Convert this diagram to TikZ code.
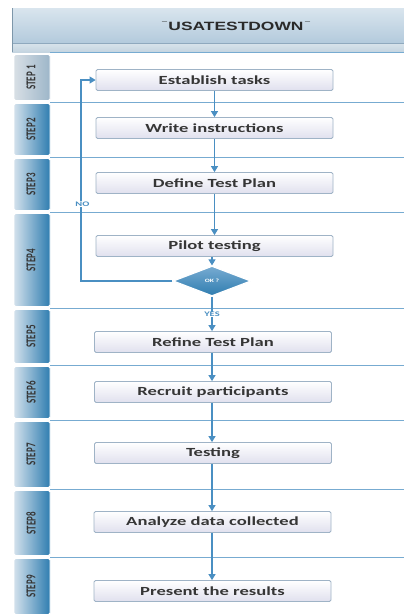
\documentclass[tikz,border=0pt]{standalone}
\usepackage{fontspec}
\setmainfont{Carlito}
\newfontfamily\boxfont[FakeStretch=1.5]{Carlito}
\newfontfamily\titlefont[FakeStretch=1.45]{Liberation Sans}
\newfontfamily\plainsans{Liberation Sans}
\usetikzlibrary{arrows.meta,shapes.geometric}
\definecolor{flow}{HTML}{4A8FC2}
\definecolor{tabblue}{HTML}{2F7DB0}
\definecolor{tablight}{HTML}{D3E1EC}
\definecolor{tabgrey}{HTML}{D8DFE5}
\definecolor{tabgreyblue}{HTML}{9DB6C9}
\definecolor{boxedge}{HTML}{9FB3C6}
\definecolor{boxfill}{HTML}{E0E0EE}
\definecolor{inktext}{HTML}{363636}
\definecolor{headtop}{HTML}{D9E5EE}
\definecolor{headbot}{HTML}{B3CADC}
\definecolor{striptop}{HTML}{D6E2EA}
\definecolor{stripbot}{HTML}{C4D4E0}
\definecolor{headrule}{HTML}{8FA9BE}
\definecolor{headedge}{HTML}{7E97AA}
\definecolor{titleink}{HTML}{2A2A2A}
\newcommand{\headmark}{\raisebox{1.8pt}{\plainsans\fontsize{9}{9}\selectfont ¯}}
\begin{document}
\begin{tikzpicture}[x=1pt,y=-1pt,
  stepbox/.style={draw=boxedge,line width=0.8pt,rounded corners=1.5pt,
    top color=white,bottom color=boxfill,minimum width=237pt,minimum height=21pt,
    inner sep=0pt,font=\boxfont\bfseries\fontsize{12.4}{12.4}\selectfont,text=inktext},
  decision/.style={diamond,aspect=2.6,minimum width=78pt,minimum height=30pt,inner sep=0pt,
    draw=white,line width=1.2pt,top color=flow!75,bottom color=tabblue,
    font=\boxfont\bfseries\fontsize{5}{5}\selectfont,text=white},
  flowline/.style={draw=flow,line width=1.1pt},
  flowarrow/.style={flowline,-{Triangle[length=6pt,width=7pt]}},
  lanetab/.style={rounded corners=1.5pt,left color=tablight,right color=tabblue,draw=white,line width=0.8pt},
  lanetabpale/.style={rounded corners=1.5pt,left color=tabgrey,right color=tabgreyblue,draw=white,line width=0.8pt},
  lanesep/.style={draw=flow!75,line width=1pt},
  steplabel/.style={rotate=90,font=\bfseries\fontsize{9}{9}\selectfont,text=inktext,inner sep=0pt},
  flowlabel/.style={font=\boxfont\bfseries\fontsize{7}{7}\selectfont,text=flow}]
\useasboundingbox (0,0) rectangle (404,614);
\fill[white] (0,0) rectangle (404,614);

% header bar
\shade[top color=headtop,bottom color=headbot] (12,8) rectangle (404,43);
\shade[top color=striptop,bottom color=stripbot] (12,44) rectangle (404,52);
\draw[headrule,line width=0.6pt] (12,43.5) -- (404,43.5);
\draw[headedge,line width=1.2pt] (12.6,8) -- (12.6,52);
\node[font=\titlefont\bfseries\fontsize{12}{12}\selectfont,text=titleink] (title) at (236,26)
  {\headmark\hspace{1.5pt}USATESTDOWN\hspace{1.5pt}\headmark};

% swim lanes
\foreach \ya/\yb/\lab [count=\i] in {53/102/STEP 1,102/157/STEP2,157/212/STEP3,212/308/STEP4,308/365/STEP5,365/420/STEP6,420/489/STEP7,489/557/STEP8,557/616/STEP9}{
  \ifnum\i=1
    \shade[lanetabpale] (14,\ya+1.5) rectangle (50,\yb-1.5);
  \else
    \shade[lanetab] (14,\ya+1.5) rectangle (50,\yb-1.5);
  \fi
  \node[steplabel] (tab\i) at (31,{(\ya+\yb)/2}) {\scalebox{1}[1.5]{\lab}};
}
\foreach \y in {52.5,102,157,212,308,365,420,489,557}
  \draw[lanesep] (50,\y) -- (404,\y);

% process steps
\node[stepbox] (s1) at (214.5,80) {Establish tasks};
\node[stepbox] (s2) at (214.5,128) {Write instructions};
\node[stepbox] (s3) at (214.5,183) {Define Test Plan};
\node[stepbox] (s4) at (214.5,246) {Pilot testing};
\node[decision] (ok) at (212,281) {OK ?};
\node[stepbox] (s5) at (213,342) {Refine Test Plan};
\node[stepbox] (s6) at (213,392) {Recruit participants};
\node[stepbox] (s7) at (213,453) {Testing};
\node[stepbox] (s8) at (212.5,522) {Analyze data collected};
\node[stepbox] (s9) at (212.5,591) {Present the results};

% connectors
\draw[flowarrow] (s1.south) -- (s2.north);
\draw[flowarrow] (s2.south) -- (s3.north);
\draw[flowarrow] (s3.south) -- (s4.north);
\draw[flowarrow] (s4.south -| ok.north) -- (ok.north);
\draw[flowarrow] (ok.south) -- (s5.north -| ok.south) node[flowlabel,pos=0.52,fill=white,inner sep=0.5pt] (yes) {YES};
\draw[flowarrow] (s5.south -| ok.south) -- (s6.north -| ok.south);
\draw[flowarrow] (s6.south -| ok.south) -- (s7.north -| ok.south);
\draw[flowarrow] (s7.south -| ok.south) -- (s8.north -| ok.south);
\draw[flowarrow] (s8.south -| ok.south) -- (s9.north -| ok.south);
\coordinate (loopbot) at (81,281);
\coordinate (looptop) at (81,80);
\draw[flowarrow] (ok.west) -- (loopbot) -- (looptop) -- (s1.west);
\node[flowlabel,fill=white,inner sep=0.5pt] (no) at (82.5,204) {NO};
\end{tikzpicture}
\end{document}
